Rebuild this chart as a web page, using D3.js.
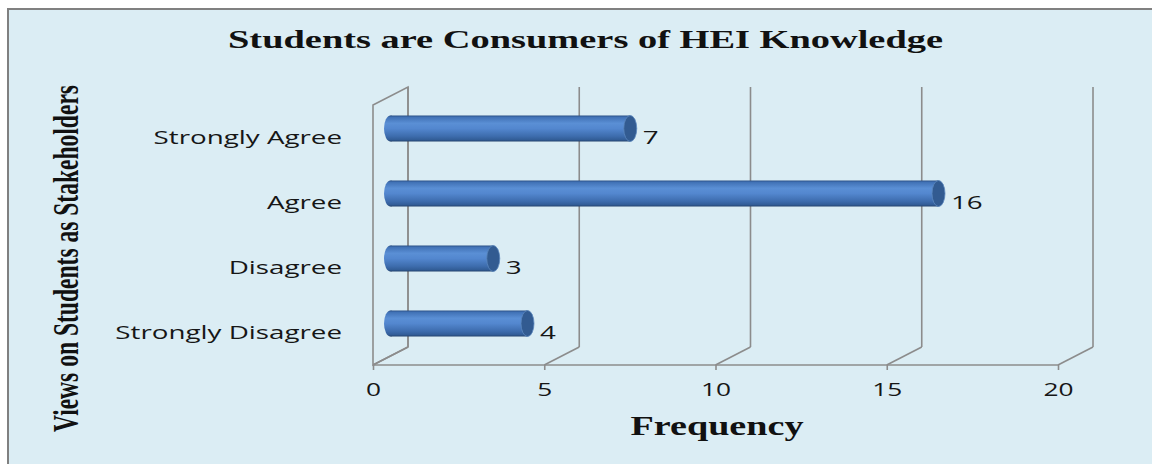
<!DOCTYPE html>
<html>
<head>
<meta charset="utf-8">
<script src="https://cdn.jsdelivr.net/npm/d3@7"></script>
<style>
  html, body { margin: 0; padding: 0; background: #ffffff; }
  svg { display: block; }
</style>
</head>
<body>
<svg id="chart" width="1152" height="464"></svg>
<script>
const categories = ["Strongly Agree", "Agree", "Disagree", "Strongly Disagree"];
const values = [7, 16, 3, 4];
const xTicks = [0, 5, 10, 15, 20];
const title = "Students are Consumers of HEI Knowledge";
const xTitle = "Frequency";
const yTitle = "Views on Students as Stakeholders";

const svg = d3.select("#chart");
const W = 1152, H = 464;
const STRETCH = 1.46;
const sans = "'Open Sans', 'Noto Sans', sans-serif";
const serif = "'Liberation Serif', 'Times New Roman', serif";
const gridColor = "#8c8c8c";
const textColor = "#161616";

// stretch text horizontally to mimic the reference's wide rendering
function stretch(sel, k) {
  sel.each(function() {
    const w = this.getComputedTextLength();
    d3.select(this).attr("textLength", w * k).attr("lengthAdjust", "spacingAndGlyphs");
  });
}

// background box
svg.append("rect").attr("x", 8).attr("y", 9).attr("width", W).attr("height", H)
  .attr("fill", "#dbedf4").attr("stroke", "#808080").attr("stroke-width", 2);

// defs
const defs = svg.append("defs");
const g1 = defs.append("linearGradient").attr("id", "body").attr("x1", 0).attr("y1", 0).attr("x2", 0).attr("y2", 1);
[[0, "#2a5087"], [0.07, "#4172b6"], [0.3, "#5a8fd5"], [0.5, "#5387cf"], [0.8, "#3d6cad"], [0.93, "#325d97"], [1, "#24436e"]]
  .forEach(([o, c]) => g1.append("stop").attr("offset", o).attr("stop-color", c));

// scales
const x = d3.scaleLinear().domain([0, 20]).range([373, 1058]);
const y = d3.scaleBand().domain(categories).range([105, 365]);
const DX = 35, DY = -18;
const floorY = y.range()[1];
const topY = y.range()[0];

// walls / gridlines
const grid = svg.append("g").attr("fill", "none").attr("stroke", gridColor).attr("stroke-width", 1.6);
grid.append("path").attr("d",
  `M${x(0)},${floorY} L${x(0)},${topY} L${x(0) + DX},${topY + DY} L${x(0) + DX},${floorY + DY} Z`);
xTicks.forEach(t => {
  grid.append("line").attr("x1", x(t) + DX).attr("x2", x(t) + DX)
    .attr("y1", floorY + DY).attr("y2", topY + DY);
  grid.append("line").attr("x1", x(t)).attr("x2", x(t) + DX)
    .attr("y1", floorY).attr("y2", floorY + DY);
});
const axis = svg.append("g").attr("transform", `translate(0,${floorY})`)
  .call(d3.axisBottom(x).tickValues(xTicks).tickSize(5).tickPadding(14).tickSizeOuter(0));
axis.select(".domain").attr("stroke", gridColor).attr("stroke-width", 1.6).attr("d", `M${x(0)},0H${x(20)}`);
axis.selectAll(".tick line").attr("stroke", gridColor).attr("stroke-width", 1.6);
axis.selectAll(".tick text").attr("font-family", sans).attr("font-size", 18).attr("fill", textColor)
  .attr("dy", "0.68em").call(stretch, STRETCH);

// category labels
svg.append("g").selectAll("text").data(categories).join("text")
  .attr("x", 342).attr("y", d => y(d) + y.bandwidth() / 2 + 6.8)
  .attr("text-anchor", "end").attr("font-family", sans).attr("font-size", 19).attr("fill", textColor)
  .text(d => d).call(stretch, STRETCH);

// cylinder bars
const barH = 26, rx = 6.5;
const data = categories.map((c, i) => ({ c, v: values[i] }));
const bars = svg.append("g").selectAll("g").data(data).join("g");
const cy = d => y(d.c) + y.bandwidth() / 2 + DY / 2;
const bx0 = () => x(0) + DX / 2;
const bx1 = d => x(d.v) + DX / 2;
bars.append("ellipse").attr("cx", bx0).attr("cy", cy).attr("rx", rx).attr("ry", barH / 2)
  .attr("fill", "url(#body)");
bars.append("rect").attr("x", bx0).attr("y", d => cy(d) - barH / 2)
  .attr("width", d => bx1(d) - bx0()).attr("height", barH).attr("fill", "url(#body)");
bars.append("ellipse").attr("cx", bx1).attr("cy", cy).attr("rx", rx).attr("ry", barH / 2)
  .attr("fill", "#325b91").attr("stroke", "#5b86bd").attr("stroke-width", 0.8);

// value labels
svg.append("g").selectAll("text").data(data).join("text")
  .attr("x", d => x(d.v) + DX / 2 + rx + 6).attr("y", d => y(d.c) + y.bandwidth() / 2 + 6.8)
  .attr("font-family", sans).attr("font-size", 19).attr("fill", textColor)
  .text(d => d.v).call(stretch, STRETCH);

// titles
svg.append("text").attr("x", 585.5).attr("y", 48).attr("text-anchor", "middle")
  .attr("font-family", serif).attr("font-weight", "bold").attr("font-size", 26).attr("fill", "#111")
  .attr("textLength", 715).attr("lengthAdjust", "spacingAndGlyphs").text(title);
svg.append("text").attr("x", 717).attr("y", 435).attr("text-anchor", "middle")
  .attr("font-family", serif).attr("font-weight", "bold").attr("font-size", 27).attr("fill", "#111")
  .attr("textLength", 173).attr("lengthAdjust", "spacingAndGlyphs").text(xTitle);
svg.append("text").attr("transform", "translate(78,258.5) scale(1.4,1) rotate(-90)")
  .attr("text-anchor", "middle")
  .attr("font-family", serif).attr("font-weight", "bold").attr("font-size", 25).attr("fill", "#111")
  .attr("textLength", 347).attr("lengthAdjust", "spacingAndGlyphs").text(yTitle);
</script>
</body>
</html>
